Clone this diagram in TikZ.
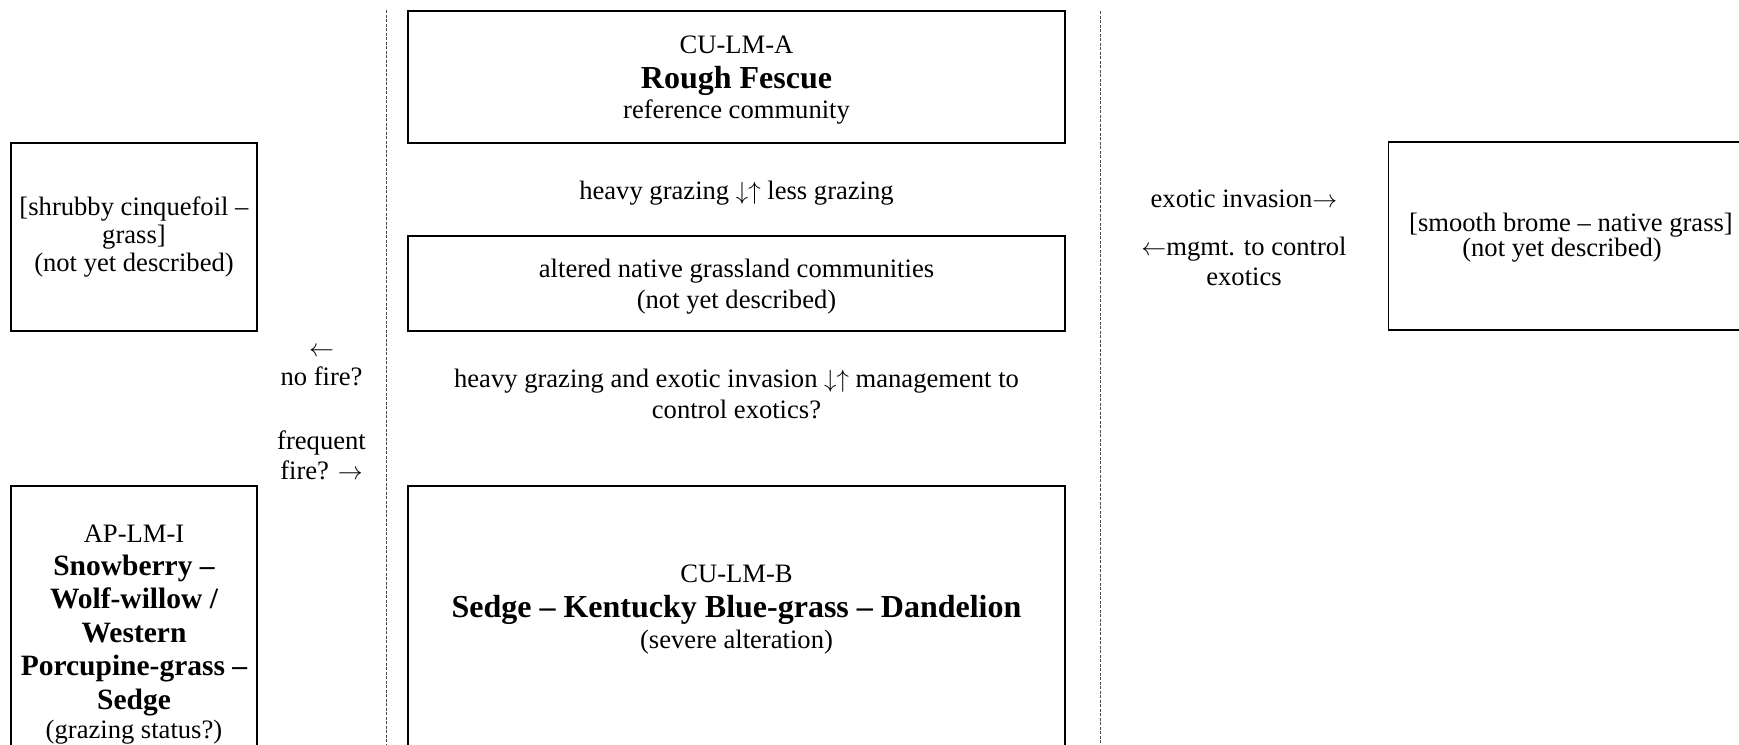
\documentclass[tikz,border=0pt]{standalone}
\usepackage{fontspec}
\setmainfont{Liberation Serif}
\newcommand\bigb[1]{{\fontsize{32}{34}\selectfont\bfseries #1}}
\newcommand\midb[1]{{\fontsize{29.5}{34}\selectfont\bfseries #1}}
\newcommand\fst{\rule{0pt}{24pt}}
\newcommand\ra{$\rightarrow$}
\newcommand\la{$\leftarrow$}
\newcommand\du{$\downarrow\uparrow$}
\begin{document}
\begin{tikzpicture}[x=1pt,y=-1pt,
  box/.style={draw=black, line width=2pt, rectangle, inner sep=0pt},
  thinbox/.style={draw=black, line width=1.1pt, rectangle, inner sep=0pt},
  txt/.style={align=center, inner sep=0pt, anchor=north, font=\fontsize{26.6}{28}\selectfont},
  sepline/.style={draw=black!70, line width=1pt, dash pattern=on 3pt off 1.5pt}]
\path[use as bounding box] (0,0) rectangle (1739,744);
\clip (0,0) rectangle (1739,744);
% separators
\coordinate (s1t) at (386,10);
\coordinate (s1b) at (386,760);
\coordinate (s2t) at (1100,11);
\coordinate (s2b) at (1100,760);
\draw[sepline] (s1t) -- (s1b);
\draw[sepline] (s2t) -- (s2b);
% boxes
\node[box, minimum width=657pt, minimum height=132pt] (culma) at (736.5,77) {};
\node[box, minimum width=657pt, minimum height=95pt] (alt) at (736.5,283) {};
\node[box, minimum width=657pt, minimum height=314pt] (culmb) at (736.5,643) {};
\node[box, minimum width=245.5pt, minimum height=188pt] (shrub) at (133.75,237) {};
\node[box, minimum width=245.5pt, minimum height=314pt] (aplmi) at (133.75,643) {};
\node[thinbox, minimum width=411pt, minimum height=188pt] (brome) at (1594,236) {};
% texts
\node[txt] (culmaT) at (736.5,29) {\fst CU-LM-A\\[7pt]\bigb{Rough Fescue}\\[2pt]reference community};
\node[txt] (g1) at (736.5,175) {\fst heavy grazing \du{} less grazing};
\node[txt] (altT) at (736.5,253) {\fst altered native grassland communities\\[3pt](not yet described)};
\node[txt] (g2) at (736.5,363) {\fst heavy grazing and exotic invasion \du{} management to\\[3pt]control exotics?};
\node[txt] (culmbT) at (736.5,558) {\fst CU-LM-B\\[7pt]\bigb{Sedge – Kentucky Blue-grass – Dandelion}\\[3pt](severe alteration)};
\node[txt] (shrubT) at (134,191) {\fst [shrubby cinquefoil –\\grass]\\(not yet described)};
\node[txt] (fire1) at (321.5,332) {\fst \la\\[1pt]no fire?};
\node[txt] (fire2) at (321.5,425) {\fst frequent\\[2pt]fire? \ra};
\node[txt] (apT) at (134,518) {\fst AP-LM-I\\[5pt]\midb{Snowberry –}\\[5pt]\midb{Wolf-willow /}\\[6pt]\midb{Western}\\[5pt]\midb{Porcupine-grass –}\\[6pt]\midb{Sedge}\\[1pt](grazing status?)};
\node[txt] (exoT) at (1244,183) {\fst exotic invasion\ra};
\node[txt] (mgmtT) at (1244,231) {\fst \la mgmt. to control\\[2pt]exotics};
\node[txt] (bromeT) at (1571,207) {\fst [smooth brome – native grass]\\[-3pt](not yet described)\hspace*{18pt}};
\end{tikzpicture}
\end{document}
